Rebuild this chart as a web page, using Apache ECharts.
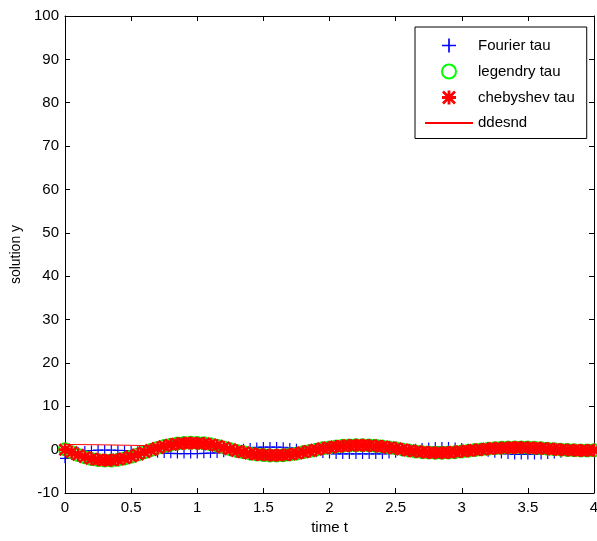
<!DOCTYPE html>
<html>
<head>
<meta charset="utf-8">
<script src="https://cdn.jsdelivr.net/npm/echarts@6/dist/echarts.min.js"></script>
<style>html,body{margin:0;padding:0;background:#fff}#c{width:597px;height:541px}</style>
</head>
<body>
<div id="c"></div>
<script>
var timeT = [0,0.05,0.1,0.15,0.2,0.25,0.3,0.35,0.4,0.45,0.5,0.55,0.6,0.65,0.7,0.75,0.8,0.85,0.9,0.95,1.0,1.05,1.1,1.15,1.2,1.25,1.3,1.35,1.4,1.45,1.5,1.55,1.6,1.65,1.7,1.75,1.8,1.85,1.9,1.95,2.0,2.05,2.1,2.15,2.2,2.25,2.3,2.35,2.4,2.45,2.5,2.55,2.6,2.65,2.7,2.75,2.8,2.85,2.9,2.95,3.0,3.05,3.1,3.15,3.2,3.25,3.3,3.35,3.4,3.45,3.5,3.55,3.6,3.65,3.7,3.75,3.8,3.85,3.9,3.95,4.0];
var fourierTau = [-2.0,-1.2,-0.6,-0.3,-0.2,-0.1,-0.1,-0.1,-0.15,-0.2,-0.3,-0.4,-0.5,-0.6,-0.7,-0.8,-0.85,-0.9,-0.9,-0.9,-0.9,-0.85,-0.8,-0.75,-0.6,-0.4,-0.1,0.2,0.4,0.5,0.6,0.6,0.6,0.55,0.4,0.2,-0.1,-0.4,-0.6,-0.8,-0.9,-1.0,-1.0,-1.0,-1.0,-1.0,-1.0,-1.0,-1.0,-0.9,-0.7,-0.4,-0.1,0.2,0.4,0.5,0.6,0.6,0.6,0.5,0.4,0.2,0.0,-0.2,-0.5,-0.7,-0.9,-1.0,-1.1,-1.1,-1.1,-1.1,-1.1,-1.0,-0.9,-0.7,-0.5,-0.3,-0.2,-0.2,-0.2];
var legendryTau = [0.1,-0.6,-1.25,-1.75,-2.15,-2.4,-2.5,-2.5,-2.35,-2.05,-1.65,-1.15,-0.6,-0.1,0.4,0.85,1.15,1.4,1.55,1.6,1.55,1.45,1.25,0.92,0.52,0.1,-0.3,-0.62,-0.92,-1.12,-1.25,-1.35,-1.35,-1.28,-1.12,-0.92,-0.62,-0.3,0.0,0.3,0.52,0.72,0.88,0.98,1.02,1.02,0.98,0.88,0.72,0.52,0.3,0.05,-0.2,-0.42,-0.58,-0.68,-0.72,-0.72,-0.68,-0.58,-0.42,-0.25,-0.1,0.05,0.2,0.32,0.42,0.48,0.52,0.52,0.48,0.42,0.32,0.2,0.1,0.0,-0.1,-0.15,-0.2,-0.2,-0.15];
var chebyshevTau = [0.0,-0.6,-1.2,-1.7,-2.1,-2.35,-2.45,-2.45,-2.3,-2.0,-1.6,-1.1,-0.6,-0.1,0.4,0.8,1.1,1.35,1.5,1.55,1.5,1.4,1.2,0.9,0.5,0.1,-0.3,-0.6,-0.9,-1.1,-1.2,-1.3,-1.3,-1.25,-1.1,-0.9,-0.6,-0.3,0.0,0.3,0.5,0.7,0.85,0.95,1.0,1.0,0.95,0.85,0.7,0.5,0.3,0.05,-0.2,-0.4,-0.55,-0.65,-0.7,-0.7,-0.65,-0.55,-0.4,-0.25,-0.1,0.05,0.2,0.3,0.4,0.45,0.5,0.5,0.45,0.4,0.3,0.2,0.1,0.0,-0.1,-0.15,-0.2,-0.2,-0.15];
var ddesndT = [0,0.3,0.6,0.8,0.9,1.0,1.1,1.2,1.3,1.4,1.5,1.6,1.7,1.8,1.9,2.0,2.1,2.2,2.3,2.4,2.5,2.6,2.7,2.8,2.9,3.0,3.1,3.2,3.3,3.4,3.5,3.6,3.7,3.8,3.9,4.0];
var ddesndY = [1.2,1.1,0.95,1.1,1.5,1.5,1.2,0.5,-0.3,-0.9,-1.2,-1.3,-1.1,-0.6,0.0,0.5,0.85,1.0,0.95,0.7,0.3,-0.2,-0.55,-0.7,-0.65,-0.4,-0.1,0.2,0.4,0.5,0.45,0.3,0.1,-0.1,-0.2,-0.15];
var xTicks = {min:0, max:4, interval:0.5};
var yTicks = {min:-10, max:100, interval:10};

function pairs(xs, ys){ var out=[]; for(var i=0;i<xs.length;i++){ out.push([xs[i], ys[i]]); } return out; }

var plusPath = 'path://M8.8 0 L11.2 0 L11.2 8.8 L20 8.8 L20 11.2 L11.2 11.2 L11.2 20 L8.8 20 L8.8 11.2 L0 11.2 L0 8.8 L8.8 8.8 Z';
var starPath = 'path://M8 0 L12 0 L12 20 L8 20 Z M0 8 L20 8 L20 12 L0 12 Z M0 2.8 L2.8 0 L20 17.2 L17.2 20 Z M17.2 0 L20 2.8 L2.8 20 L0 17.2 Z';

var font = 'Liberation Sans, Arial, sans-serif';
var chart = echarts.init(document.getElementById('c'));
var axisCommon = {
  axisLine:{show:true, onZero:false, lineStyle:{color:'#000', width:1}},
  axisTick:{show:true, inside:true, length:5, lineStyle:{color:'#000'}},
  splitLine:{show:false}
};
chart.setOption({
  animation:false,
  backgroundColor:'#fff',
  grid:{left:65, right:3, top:16, bottom:48, outerBoundsMode:'none', containLabel:false},
  legend:{
    orient:'vertical', left:415, top:27,
    backgroundColor:'#fff', borderColor:'#000', borderWidth:1,
    padding:[11,12,8,9], itemWidth:48, itemHeight:14, itemGap:10.5,
    textStyle:{fontFamily:font, fontSize:15, color:'#000'},
    data:['Fourier tau','legendry tau','chebyshev tau',{name:'ddesnd', itemStyle:{opacity:0}}]
  },
  xAxis:[
    Object.assign({type:'value', position:'bottom', min:xTicks.min, max:xTicks.max, interval:xTicks.interval,
      name:'time t', nameLocation:'middle', nameGap:27,
      nameTextStyle:{fontFamily:font, fontSize:15, color:'#000'},
      axisLabel:{fontFamily:font, fontSize:15, color:'#000', margin:7}}, axisCommon),
    Object.assign({type:'value', position:'top', min:xTicks.min, max:xTicks.max, interval:xTicks.interval,
      axisLabel:{show:false}}, axisCommon)
  ],
  yAxis:[
    Object.assign({type:'value', position:'left', min:yTicks.min, max:yTicks.max, interval:yTicks.interval,
      name:'solution y', nameLocation:'middle', nameGap:40, nameRotate:90,
      nameTextStyle:{fontFamily:font, fontSize:14, color:'#000'},
      axisLabel:{fontFamily:font, fontSize:15, color:'#000', margin:6}}, axisCommon),
    Object.assign({type:'value', position:'right', min:yTicks.min, max:yTicks.max, interval:yTicks.interval,
      axisLabel:{show:false}}, axisCommon)
  ],
  series:[
    {name:'Fourier tau', type:'scatter', symbol:plusPath, symbolSize:10,
     itemStyle:{color:'#0000ff', opacity:1}, data:pairs(timeT, fourierTau), z:2},
    {name:'legendry tau', type:'scatter', symbol:'emptyCircle', symbolSize:12,
     itemStyle:{color:'#00ff00', borderColor:'#00ff00', borderWidth:1.2, opacity:1}, data:pairs(timeT, legendryTau), z:3},
    {name:'chebyshev tau', type:'scatter', symbol:starPath, symbolSize:13,
     itemStyle:{color:'#ff0000', opacity:1}, data:pairs(timeT, chebyshevTau), z:4},
    {name:'ddesnd', type:'line', symbol:'none', showSymbol:false,
     lineStyle:{color:'#ff0000', width:1}, itemStyle:{color:'#ff0000'},
     data:pairs(ddesndT, ddesndY), z:5}
  ]
});
</script>
</body>
</html>
